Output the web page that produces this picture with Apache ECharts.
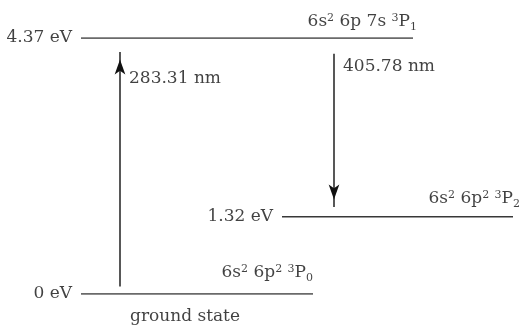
<!DOCTYPE html>
<html>
<head>
<meta charset="utf-8">
<script src="https://cdn.jsdelivr.net/npm/echarts@6/dist/echarts.min.js"></script>
<style>html,body{margin:0;padding:0;background:#fff;}#c{width:523px;height:325px;}</style>
</head>
<body>
<div id="c"></div>
<script>
// ---- data ----
const levelEnergies = [0, 1.32, 4.37];                 // eV
const energyLabels = ['0 eV', '1.32 eV', '4.37 eV'];
const termLabels = [
  '6s{sup|2} 6p{sup|2} {sup|3}P{sub|0}',
  '6s{sup|2} 6p{sup|2} {sup|3}P{sub|2}',
  '6s{sup|2} 6p 7s {sup|3}P{sub|1}'
];
const transitionFrom = [0, 2];
const transitionTo = [2, 1];
const transitionLabels = ['283.31 nm', '405.78 nm'];
const groundLabel = 'ground state';

// ---- layout (not data) ----
const levelSpans = [[81, 313], [282, 513], [81, 413]];
const termOffsetY = [-10, -7, -5];
const termOffsetX = [0, 7, 4];
const arrowX = [120, 334];
const arrowGapStart = [0.13, 0.27];
const arrowGapEnd = [0.24, 0.165];
const arrowLabelDrop = [0.70, 0.48];
const groundLabelX = 185;

const FONT = 'DejaVu Serif';
const INK = '#111';
const LINE = '#383838';

const series = [];

// energy level lines
levelEnergies.forEach((E, i) => {
  series.push({
    type: 'line', silent: true, symbol: 'none',
    lineStyle: { color: LINE, width: 1.5 },
    data: [[levelSpans[i][0], E], [levelSpans[i][1], E]]
  });
});

// transition arrows
transitionFrom.forEach((f, i) => {
  const t = transitionTo[i];
  const up = levelEnergies[t] > levelEnergies[f];
  const sgn = up ? 1 : -1;
  const e0 = levelEnergies[f] + sgn * arrowGapStart[i];
  const e1 = levelEnergies[t] - sgn * arrowGapEnd[i];
  series.push({
    type: 'line', silent: true,
    lineStyle: { color: INK, width: 1.4 },
    itemStyle: { color: INK },
    data: [
      { value: [arrowX[i], e0], symbol: 'none' },
      { value: [arrowX[i], e1], symbol: 'arrow', symbolSize: [8, 15],
        symbolRotate: up ? 0 : 180, symbolOffset: [0, up ? '50%' : '-50%'] }
    ]
  });
});

// text labels
const texts = [];
levelEnergies.forEach((E, i) => {
  texts.push({
    value: [levelSpans[i][0], E],
    label: { show: true, position: [0, 0], align: 'right', verticalAlign: 'middle',
      offset: [-9, 0], formatter: energyLabels[i] }
  });
  texts.push({
    value: [levelSpans[i][1], E],
    label: { show: true, position: [0, 0], align: 'right', verticalAlign: 'bottom',
      offset: [termOffsetX[i], termOffsetY[i]], formatter: termLabels[i],
      rich: {
        sup: { fontFamily: FONT, fontSize: 11, color: INK, verticalAlign: 'top', padding: [2, 0, 0, 0] },
        sub: { fontFamily: FONT, fontSize: 11, color: INK, verticalAlign: 'bottom', padding: [0, 0, 0, 0] }
      }
    }
  });
});
transitionFrom.forEach((f, i) => {
  const upper = Math.max(levelEnergies[f], levelEnergies[transitionTo[i]]);
  texts.push({
    value: [arrowX[i], upper - arrowLabelDrop[i]],
    label: { show: true, position: [0, 0], align: 'left', verticalAlign: 'middle',
      offset: [9, 0], formatter: transitionLabels[i] }
  });
});
texts.push({
  value: [groundLabelX, levelEnergies[0]],
  label: { show: true, position: [0, 0], align: 'center', verticalAlign: 'middle',
    offset: [0, 23], formatter: groundLabel }
});

series.push({
  type: 'scatter', silent: true, symbolSize: 0,
  itemStyle: { color: 'transparent' },
  label: { fontFamily: FONT, fontSize: 17, color: INK, lineHeight: 22 },
  data: texts
});

const chart = echarts.init(document.getElementById('c'), null, { renderer: 'canvas' });
chart.setOption({
  animation: false,
  backgroundColor: '#fff',
  grid: { left: 0, right: 0, top: 38, bottom: 31 },
  xAxis: { type: 'value', min: 0, max: 523, show: false },
  yAxis: { type: 'value', min: 0, max: 4.37, show: false },
  series: series
});
</script>
</body>
</html>
